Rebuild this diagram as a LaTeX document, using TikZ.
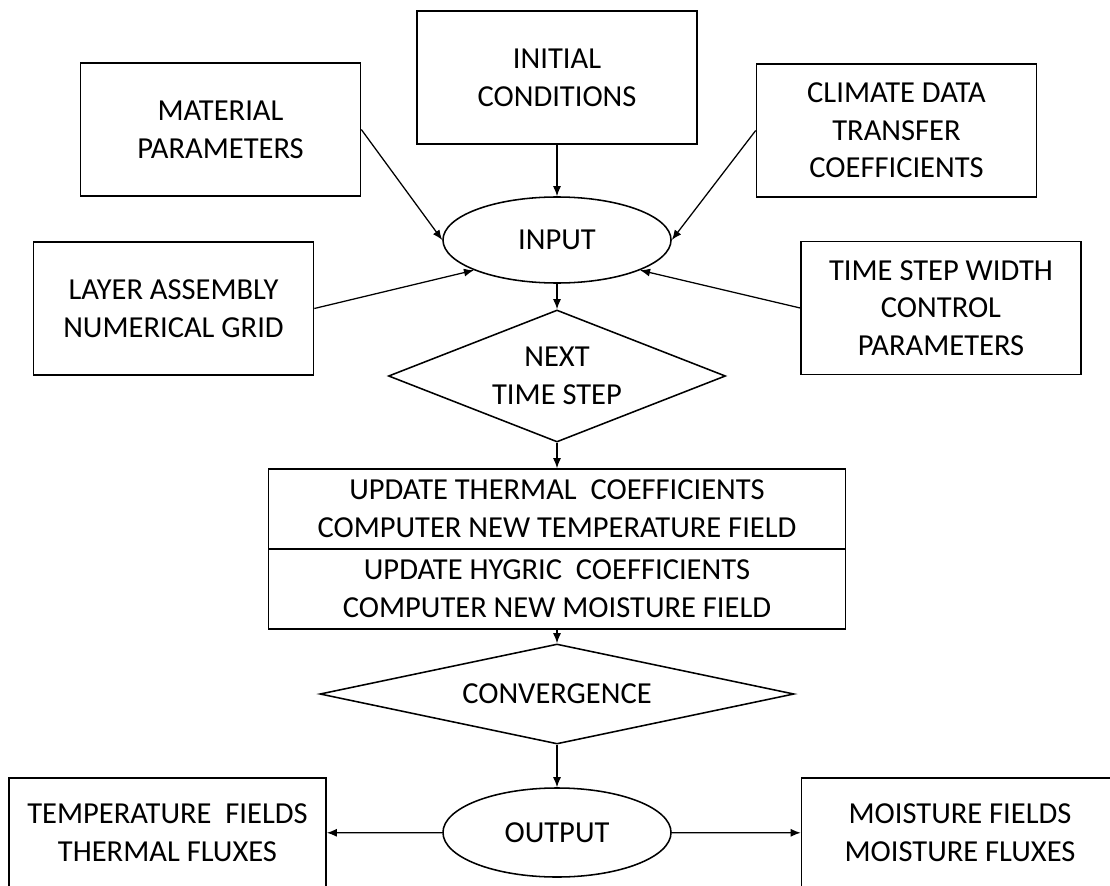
\documentclass[tikz,border=0pt]{standalone}
\usepackage{fontspec}
\setmainfont{Carlito}
\usetikzlibrary{shapes.geometric,arrows.meta,positioning}

\begin{document}
\begin{tikzpicture}[x=0.025cm, y=-0.025cm, line width=1.1pt,
      every node/.style={align=center, inner sep=0pt, font=\fontsize{21.7}{26.8}\selectfont},
      box/.style={rectangle, draw, minimum width=7cm, minimum height=3.33cm},
      oval/.style={ellipse, draw, minimum width=5.7cm, minimum height=2.2cm},
      decision/.style={diamond, draw},
      flow/.style={-{Latex[length=0.25cm, width=0.2cm]}, line width=0.9pt}]
  \useasboundingbox (0,0) rectangle (1110,886);

  \node[box] (initial) at (557,77.5) {INITIAL\\CONDITIONS};
  \node[box] (material) at (220.5,129.5) {MATERIAL\\PARAMETERS};
  \node[box] (climate) at (896.5,130.5) {CLIMATE DATA\\TRANSFER\\COEFFICIENTS};
  \node[oval, minimum height=2.15cm] (input) at (557,240) {INPUT};
  \node[box] (layer) at (173.5,308.5) {LAYER ASSEMBLY\\NUMERICAL GRID};
  \node[box] (timestep) at (941,308) {TIME STEP WIDTH\\CONTROL\\PARAMETERS};
  \node[decision, aspect=2.55, minimum width=8.425cm, minimum height=3.3cm] (nextstep) at (557,376) {NEXT\\TIME STEP};
  \node[box, minimum width=14.425cm, minimum height=2cm] (thermal) at (557,509)
    {UPDATE THERMAL~ COEFFICIENTS\\COMPUTER NEW TEMPERATURE FIELD};
  \node[box, minimum width=14.425cm, minimum height=2cm, below=-1.1pt of thermal] (hygric)
    {UPDATE HYGRIC~ COEFFICIENTS\\COMPUTER NEW MOISTURE FIELD};
  \node[decision, aspect=4.74, minimum width=11.85cm, minimum height=2.5cm] (conv) at (557,694) {CONVERGENCE};
  \node[oval, minimum height=2.225cm] (output) at (557,832.5) {OUTPUT};
  \node[box, minimum width=7.925cm, minimum height=2.75cm] (tempout) at (167.5,833) {TEMPERATURE~ FIELDS\\THERMAL FLUXES};
  \node[box, minimum width=7.925cm, minimum height=2.75cm] (moistout) at (960,833) {MOISTURE FIELDS\\MOISTURE FLUXES};

  \draw[flow] (initial) -- (input);
  \draw[flow] (material.east) -- (input.west);
  \draw[flow] (climate.west) -- (input.east);
  \draw[flow] (layer.east) -- (input.200);
  \draw[flow] (timestep.west) -- (input.340);
  \draw[flow] (input) -- (nextstep);
  \draw[flow] (nextstep) -- (thermal);
  \draw[flow] (hygric) -- (conv);
  \draw[flow] (conv) -- (output);
  \draw[flow] (output) -- (tempout);
  \draw[flow] (output) -- (moistout);
\end{tikzpicture}
\end{document}
